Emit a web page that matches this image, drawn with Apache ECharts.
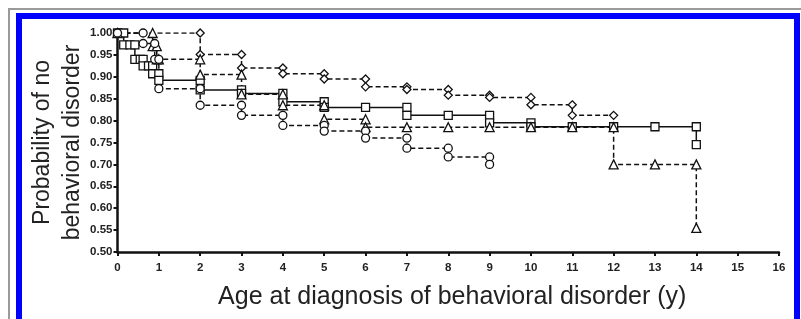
<!DOCTYPE html>
<html>
<head>
<meta charset="utf-8">
<script src="https://cdn.jsdelivr.net/npm/echarts@6/dist/echarts.min.js"></script>
<style>
  html, body { margin: 0; padding: 0; background: #fff; }
  #outer { position: absolute; left: 8px; top: 8px; width: 820px; height: 340px; border: 2px solid #9a9a9a; }
  #frame { position: absolute; left: 16px; top: 13px; width: 772px; height: 330px; border: 6px solid #0000ff; }
  #chart { position: absolute; left: 0; top: 0; width: 801px; height: 319px; }
</style>
</head>
<body>
<div id="outer"></div>
<div id="frame"></div>
<div id="chart"></div>
<script>
// Kaplan-Meier steps, [age, probability]; markers at every point
const squareSeries = [
  [0, 1.0], [0.15, 1.0], [0.15, 0.973], [0.3, 0.973], [0.42, 0.973], [0.42, 0.94],
  [0.55, 0.94], [0.62, 0.94], [0.62, 0.925], [0.75, 0.925], [0.85, 0.925], [0.85, 0.907],
  [1, 0.907], [1, 0.892], [2, 0.892], [2, 0.87], [3, 0.87], [3, 0.862], [4, 0.862],
  [4, 0.843], [5, 0.843], [5, 0.83], [6, 0.83], [7, 0.83], [7, 0.812], [8, 0.812],
  [9, 0.812], [9, 0.795], [10, 0.795], [10, 0.786], [11, 0.786], [12, 0.786],
  [13, 0.786], [14, 0.786], [14, 0.745]
]
const diamondSeries = [
  [0, 1.0], [2, 1.0], [2, 0.951], [3, 0.951], [3, 0.92], [4, 0.92], [4, 0.907],
  [5, 0.907], [5, 0.895], [6, 0.895], [6, 0.877], [7, 0.877], [7, 0.871], [8, 0.871],
  [8, 0.858], [9, 0.858], [9, 0.853], [10, 0.853], [10, 0.836], [11, 0.836],
  [11, 0.812], [12, 0.812]
]
const triangleSeries = [
  [0, 1.0], [0.85, 1.0], [0.85, 0.97], [0.95, 0.97], [0.95, 0.94], [1, 0.94],
  [2, 0.94], [2, 0.905], [3, 0.905], [3, 0.86], [4, 0.86], [4, 0.835], [5, 0.835],
  [5, 0.803], [6, 0.803], [6, 0.785], [7, 0.785], [8, 0.785], [9, 0.785], [10, 0.785],
  [11, 0.785], [12, 0.785], [12, 0.70], [13, 0.70], [14, 0.70], [14, 0.555]
]
const circleSeries = [
  [0, 1.0], [0.62, 1.0], [0.62, 0.976], [0.9, 0.976], [0.9, 0.94], [1, 0.94],
  [1, 0.873], [2, 0.873], [2, 0.835], [3, 0.835], [3, 0.812], [4, 0.812], [4, 0.789],
  [5, 0.789], [5, 0.776], [6, 0.776], [6, 0.76], [7, 0.76], [7, 0.737], [8, 0.737],
  [8, 0.717], [9, 0.717], [9, 0.70]
]

const yAxisName = 'Probability of no\nbehavioral disorder'
const xAxisName = 'Age at diagnosis of behavioral disorder (y)'

const chart = echarts.init(document.getElementById('chart'))

function km(data, symbol, dashed) {
  return {
    type: 'line',
    data: data,
    symbol: symbol,
    symbolSize: symbol === 'triangle' ? 9 : 8,
    showAllSymbol: true,
    animation: false,
    lineStyle: { color: '#111', width: 1.5, type: dashed ? [5, 3] : 'solid' },
    itemStyle: { color: '#fff', borderColor: '#111', borderWidth: 1.3 },
  }
}

chart.setOption({
  animation: false,
  grid: { left: 117.5, top: 33, right: 22, bottom: 67 },
  xAxis: {
    type: 'value',
    min: 0,
    max: 16,
    interval: 1,
    name: xAxisName,
    nameLocation: 'middle',
    nameGap: 33,
    nameMoveOverlap: false,
    nameTextStyle: { fontFamily: 'Liberation Sans', fontSize: 25, color: '#222', padding: [0, 0, 0, 8] },
    axisLine: { lineStyle: { color: '#111', width: 2.5 } },
    axisTick: { length: 4, lineStyle: { color: '#111', width: 2 } },
    axisLabel: { fontFamily: 'Liberation Sans', fontWeight: 'bold', fontSize: 11.5, color: '#222', margin: 10 },
    splitLine: { show: false },
  },
  yAxis: {
    type: 'value',
    min: 0.5,
    max: 1.0,
    interval: 0.05,
    name: yAxisName,
    nameLocation: 'middle',
    nameGap: 30,
    nameMoveOverlap: false,
    nameTextStyle: { fontFamily: 'Liberation Sans', fontSize: 23, color: '#222', lineHeight: 30 },
    axisLine: { lineStyle: { color: '#111', width: 2.5 } },
    axisTick: { length: 4, lineStyle: { color: '#111', width: 2 } },
    axisLabel: {
      fontFamily: 'Liberation Sans', fontWeight: 'bold', fontSize: 11.5, color: '#222', margin: 5,
      formatter: (v) => v.toFixed(2),
    },
    splitLine: { show: false },
  },
  series: [
    km(squareSeries, 'rect', false),
    km(diamondSeries, 'diamond', true),
    km(triangleSeries, 'triangle', true),
    km(circleSeries, 'circle', true),
  ],
})
</script>
</body>
</html>
